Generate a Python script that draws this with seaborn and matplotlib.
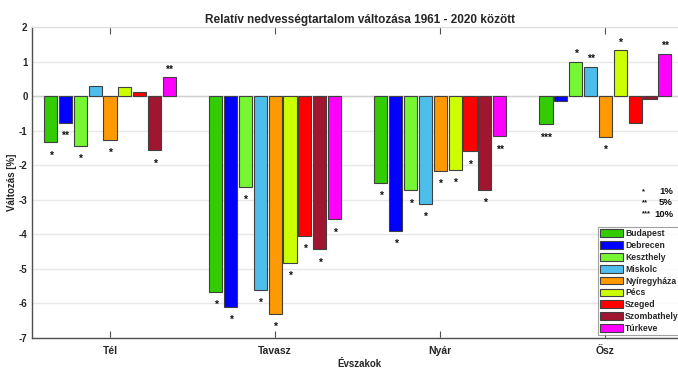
import matplotlib
matplotlib.use('Agg')
import matplotlib.pyplot as plt
import seaborn as sns
import pandas as pd
from matplotlib.patches import Patch

# ---------------- data ----------------
seasons = ['Tél', 'Tavasz', 'Nyár', 'Ősz']
cities = ['Budapest', 'Debrecen', 'Keszthely', 'Miskolc', 'Nyíregyháza',
          'Pécs', 'Szeged', 'Szombathely', 'Túrkeve']
colors = ['#33cc00', '#0000ff', '#77f733', '#4dbeeb', '#ff9900',
          '#ccff00', '#ff0000', '#a01530', '#ff00ff']

tel    = [-1.34, -0.77, -1.44, 0.28, -1.26, 0.25, 0.11, -1.57, 0.55]
tavasz = [-5.66, -6.09, -2.62, -5.61, -6.30, -4.83, -4.04, -4.43, -3.57]
nyar   = [-2.50, -3.89, -2.73, -3.12, -2.17, -2.13, -1.60, -2.71, -1.16]
osz    = [-0.82, -0.13, 1.00, 0.85, -1.17, 1.32, -0.77, -0.07, 1.23]

sig_tel    = ['*', '**', '*', '', '*', '', '', '*', '**']
sig_tavasz = ['*', '*', '*', '*', '*', '*', '*', '*', '*']
sig_nyar   = ['*', '*', '*', '*', '*', '*', '*', '*', '**']
sig_osz    = ['***', '', '*', '**', '*', '*', '', '', '**']

sig_marks  = ['*', '**', '***']
sig_levels = ['1%', '5%', '10%']

title = 'Relatív nedvességtartalom változása 1961 - 2020 között'
xlabel = 'Évszakok'
ylabel = 'Változás [%]'
yticks = [-7, -6, -5, -4, -3, -2, -1, 0, 1, 2]

# ---------------- table ----------------
values = {'Tél': tel, 'Tavasz': tavasz, 'Nyár': nyar, 'Ősz': osz}
sigs = {'Tél': sig_tel, 'Tavasz': sig_tavasz, 'Nyár': sig_nyar, 'Ősz': sig_osz}
rows = []
for s in seasons:
    for c, v, g in zip(cities, values[s], sigs[s]):
        rows.append({'season': s, 'city': c, 'value': v, 'sig': g})
df = pd.DataFrame(rows)

# ---------------- figure ----------------
sns.set_style('white')
plt.rcParams['font.family'] = ['Liberation Sans', 'DejaVu Sans']
plt.rcParams['font.weight'] = 'bold'

W, H = 678, 368
fig = plt.figure(figsize=(W / 100, H / 100), dpi=100)
ax_left, ax_right, ax_top, ax_bottom = 31.7, 688, 27, 338
ax = fig.add_axes([ax_left / W, 1 - ax_bottom / H,
                   (ax_right - ax_left) / W, (ax_bottom - ax_top) / H])

palette = dict(zip(cities, colors))
sns.barplot(data=df, x='season', y='value', hue='city', order=seasons,
            hue_order=cities, palette=palette, width=0.81, gap=0.12,
            errorbar=None, edgecolor='#404040', linewidth=0.8,
            saturation=1, ax=ax, legend=False, zorder=3)

ax.set_xlim(-0.474, 3.5)
ax.set_ylim(-7, 2)
ax.set_yticks(yticks)
ax.set_yticklabels([str(t) for t in yticks], fontsize=7, fontweight='bold')
ax.set_xticks(range(len(seasons)))
ax.set_xticklabels(seasons, fontsize=7.5, fontweight='bold')

ax.grid(axis='y', color='#e8e8e8', linewidth=1.0, zorder=0)
ax.set_axisbelow(True)
ax.axhline(0, color='#d0d0d0', linewidth=1.0, zorder=1)

for side in ['left', 'bottom']:
    ax.spines[side].set_color('#505050')
    ax.spines[side].set_linewidth(1.0)
ax.spines['top'].set_color('#dcdcdc')
ax.spines['right'].set_visible(False)

ax.tick_params(axis='x', which='both', direction='in', length=5,
               color='#505050', top=True, bottom=True, pad=6)
ax.tick_params(axis='y', direction='in', length=0, pad=3)

ax.set_title(title, fontsize=8.5, fontweight='bold', pad=3)
ax.set_xlabel(xlabel, fontsize=7, fontweight='bold', labelpad=2)
ax.set_ylabel(ylabel, fontsize=7, fontweight='bold', labelpad=1)

# significance asterisks from the bar patches
for ci, cont in enumerate(ax.containers):
    for si, bar in enumerate(cont.patches):
        v = bar.get_height()
        mark = sigs[seasons[si]][ci]
        if not mark:
            continue
        xc = bar.get_x() + bar.get_width() / 2
        yc = v + 0.3 if v > 0 else v - 0.3
        ax.text(xc, yc - 0.17, mark, ha='center', va='baseline',
                fontsize=7.5, color='#111111', zorder=5)

# legend
handles = [Patch(facecolor=c, edgecolor='#404040', linewidth=0.8, label=n)
           for n, c in zip(cities, colors)]
leg = fig.legend(handles=handles, loc='upper left',
                 bbox_to_anchor=(598 / W, 1 - 227 / H),
                 fontsize=6.2, frameon=True, fancybox=False,
                 handlelength=2.6, handleheight=1.0, handletextpad=0.3,
                 labelspacing=0.33, borderpad=0.25, borderaxespad=0)
leg.get_frame().set_edgecolor('#8a8a8a')
leg.get_frame().set_linewidth(0.8)
for t in leg.get_texts():
    t.set_fontweight('bold')

# significance key
for i, (m, lvl) in enumerate(zip(sig_marks, sig_levels)):
    yy = 1 - (191.5 + 11.3 * i) / H
    fig.text(642 / W, yy, m, ha='left', va='center', fontsize=5.5,
             color='#111111')
    fig.text(673 / W, yy, lvl, ha='right', va='center', fontsize=6.8,
             fontweight='bold', color='#111111')

fig.savefig('out.png', dpi=100)
